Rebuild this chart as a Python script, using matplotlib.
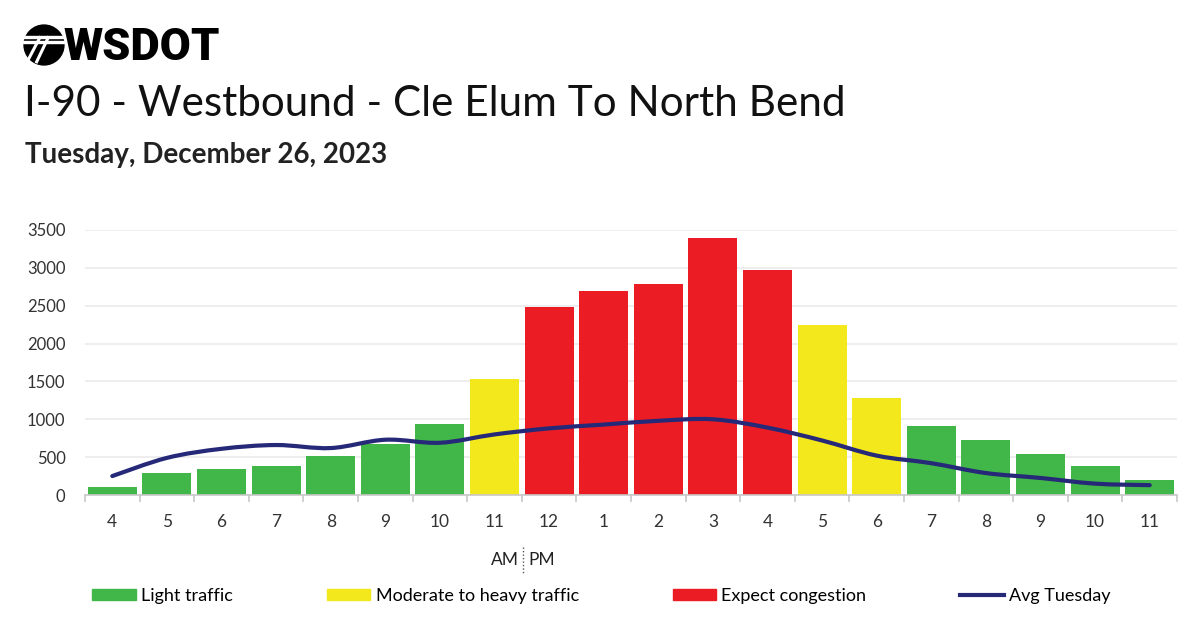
import numpy as np
import matplotlib.pyplot as plt
from matplotlib.path import Path
from matplotlib.patches import PathPatch, Patch, Circle, Rectangle
from matplotlib.lines import Line2D

# hourly volumes, Tuesday Dec 26 2023, I-90 WB Cle Elum -> North Bend
hours = ['4', '5', '6', '7', '8', '9', '10', '11', '12', '1', '2', '3', '4', '5', '6', '7', '8', '9', '10', '11']
volume = [100, 290, 350, 380, 510, 680, 940, 1530, 2480, 2700, 2790, 3400, 2970, 2240, 1280, 910, 720, 540, 385, 200]
avg_tuesday = [250, 490, 610, 660, 620, 730, 690, 800, 880, 930, 980, 1000, 890, 720, 520, 420, 290, 225, 150, 130]
# 0 = light, 1 = moderate/heavy, 2 = congestion
level = [0, 0, 0, 0, 0, 0, 0, 1, 2, 2, 2, 2, 2, 1, 1, 0, 0, 0, 0, 0]

GREEN = '#41b649'
YELLOW = '#f2e81b'
RED = '#ec1c24'
NAVY = '#262878'
level_colors = [GREEN, YELLOW, RED]
FONT = 'Lato'

fig = plt.figure(figsize=(12, 6.31), dpi=100)

# header
fig.text(24 / 1200, 1 - 104 / 631, 'I-90 - Westbound - Cle Elum To North Bend',
         fontsize=30.4, family=FONT, color='#111111', va='center', ha='left')
fig.text(25 / 1200, 1 - 155 / 631, 'Tuesday, December 26, 2023',
         fontsize=20, family=FONT, weight='bold', color='#222222', va='center', ha='left')
fig.text(64 / 1200, 1 - 48 / 631, 'WSDOT', fontsize=32.5, family='Roboto', weight='black',
         color='black', va='center', ha='left')

# logo (rough)
lax = fig.add_axes([23 / 1200, 1 - 66 / 631, 42 / 1200, 42 / 631])
lax.set_xlim(-1, 1)
lax.set_ylim(-1, 1)
lax.set_aspect('equal')
lax.axis('off')
lax.add_patch(Circle((0, 0), 0.95, color='black'))
for yy in [0.35, 0.1]:
    lax.add_patch(Rectangle((-1, yy), 2, 0.09, color='white'))
lax.plot([-0.2, -0.75], [0.35, -0.7], color='white', lw=2.2)
lax.plot([0.2, -0.35], [0.35, -0.8], color='white', lw=2.2)

# main chart
ax = fig.add_axes([85 / 1200, 1 - 495 / 631, 1092 / 1200, 265 / 631])
x = np.arange(len(hours))
ax.bar(x, volume, width=0.9, color=[level_colors[l] for l in level], zorder=2)

# smooth avg line through the points (Catmull-Rom as cubic Bezier)
pts = np.column_stack([x, avg_tuesday]).astype(float)
verts = [tuple(pts[0])]
codes = [Path.MOVETO]
n = len(pts)
for i in range(n - 1):
    p0 = pts[max(i - 1, 0)]
    p1 = pts[i]
    p2 = pts[i + 1]
    p3 = pts[min(i + 2, n - 1)]
    c1 = p1 + (p2 - p0) / 6
    c2 = p2 - (p3 - p1) / 6
    verts += [tuple(c1), tuple(c2), tuple(p2)]
    codes += [Path.CURVE4] * 3
ax.add_patch(PathPatch(Path(verts, codes), fill=False, edgecolor=NAVY, lw=3, zorder=3,
                       capstyle='round'))

ax.set_xlim(-0.5, len(hours) - 0.5)
ax.set_ylim(0, 3500)
ax.set_yticks(np.arange(0, 3501, 500))
ax.yaxis.grid(True, color='#ebebeb', lw=1.2, zorder=0)
ax.set_axisbelow(True)
for s in ['top', 'right', 'left']:
    ax.spines[s].set_visible(False)
ax.spines['bottom'].set_color('#c8c8c8')
ax.spines['bottom'].set_linewidth(1.2)

ax.set_xticks(x)
ax.set_xticklabels(hours)
ax.set_xticks(np.arange(-0.5, len(hours)), minor=True)
ax.tick_params(axis='x', which='major', length=0, pad=14, labelsize=12.5, labelcolor='#333333')
ax.tick_params(axis='x', which='minor', length=5, color='#c8c8c8', width=1.2)
ax.tick_params(axis='y', length=0, pad=14, labelsize=12, labelcolor='#333333')
for lab in ax.get_xticklabels() + ax.get_yticklabels():
    lab.set_family(FONT)

# AM | PM marker
fig.text(519 / 1200, 1 - 560 / 631, 'AM', fontsize=12.5, family=FONT, color='#222222',
         ha='right', va='center')
fig.text(528 / 1200, 1 - 560 / 631, 'PM', fontsize=12.5, family=FONT, color='#222222',
         ha='left', va='center')
fig.add_artist(Line2D([523 / 1200, 523 / 1200], [1 - 547 / 631, 1 - 574 / 631],
                      transform=fig.transFigure, color='#555555', lw=1, ls=(0, (1, 1.5))))

handles = [Patch(color=GREEN), Patch(color=YELLOW), Patch(color=RED),
           Line2D([0], [0], color=NAVY, lw=3)]
labels = ['Light traffic', 'Moderate to heavy traffic', 'Expect congestion', 'Avg Tuesday']
fig.legend(handles, labels, loc='center left', bbox_to_anchor=(76 / 1200, 1 - 596 / 631),
           ncol=4, frameon=False, prop={'family': FONT, 'size': 13},
           handlelength=2.4, handleheight=0.55, handletextpad=0.3, columnspacing=5.2)

fig.savefig('out.png', dpi=100, facecolor='white')
